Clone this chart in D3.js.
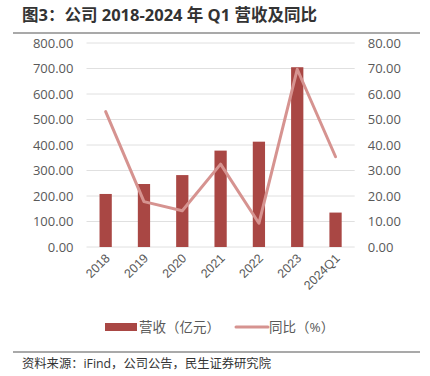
<!DOCTYPE html>
<html><head><meta charset="utf-8">
<script src="https://cdn.jsdelivr.net/npm/d3@7"></script>
<style>body{margin:0;background:#fff;} svg{display:block;font-family:"Open Sans","Noto Sans CJK SC",sans-serif;}</style>
</head><body><svg id="c" width="430" height="376"></svg>
<script>
const categories = ["2018","2019","2020","2021","2022","2023","2024Q1"];
const revenue = [208, 247, 282, 378, 413, 705, 135];
const yoy = [53.1, 17.8, 14.2, 32.5, 9.3, 69.7, 35.4];
const leftTicks = [0,100,200,300,400,500,600,700,800];
const rightTicks = [0,10,20,30,40,50,60,70,80];
const titleText = "图3：公司 2018-2024 年 Q1 营收及同比";
const sourceText = "资料来源：iFind，公司公告，民生证券研究院";
const legendLabels = ["营收（亿元）","同比（%）"];

const svg = d3.select("#c");
const barColor = "#A94744", lineColor = "#D69390", txt = "#595959", grid = "#E0E0E0";
const x = d3.scaleBand().domain(categories).range([86.5, 354.7]).paddingInner(0.68).paddingOuter(0.34);
const yL = d3.scaleLinear().domain([0,800]).range([247,43]);
const yR = d3.scaleLinear().domain([0,80]).range([247,43]);

svg.append("text").attr("x",22).attr("y",21).attr("font-size",16.5).attr("font-weight","bold").attr("fill","#333").text(titleText);
svg.append("line").attr("x1",13).attr("x2",420).attr("y1",33).attr("y2",33).attr("stroke","#555").attr("stroke-width",1.2);

svg.append("g").selectAll("line").data(leftTicks).join("line")
  .attr("x1",86.5).attr("x2",354.7).attr("y1",d=>yL(d)).attr("y2",d=>yL(d)).attr("stroke",grid).attr("stroke-width",1);

const gl = svg.append("g").attr("transform","translate(86.5,0)").call(d3.axisLeft(yL).tickValues(leftTicks).tickFormat(d3.format(".2f")).tickSize(0).tickPadding(13));
gl.select(".domain").remove();
gl.selectAll("text").attr("font-size",13).attr("fill",txt).attr("font-family","Open Sans");
const gr = svg.append("g").attr("transform","translate(354.7,0)").call(d3.axisRight(yR).tickValues(rightTicks).tickFormat(d3.format(".2f")).tickSize(0).tickPadding(13));
gr.select(".domain").remove();
gr.selectAll("text").attr("font-size",13).attr("fill",txt).attr("font-family","Open Sans");

svg.append("g").selectAll("rect").data(categories).join("rect")
  .attr("x",d=>x(d)).attr("width",x.bandwidth()).attr("y",(d,i)=>yL(revenue[i])).attr("height",(d,i)=>yL(0)-yL(revenue[i])).attr("fill",barColor);

const line = d3.line().x((d,i)=>x(categories[i])+x.bandwidth()/2).y(d=>yR(d));
svg.append("path").datum(yoy).attr("d",line).attr("fill","none").attr("stroke",lineColor).attr("stroke-width",3).attr("stroke-linejoin","round").attr("stroke-linecap","round");

const gx = svg.append("g").attr("transform","translate(0,247)").call(d3.axisBottom(x).tickSize(0).tickPadding(0));
gx.select(".domain").remove();
gx.selectAll("text").attr("font-size",12.5).attr("fill",txt).attr("text-anchor","end").attr("dy",0)
  .attr("transform",function(){return "translate(5,12) rotate(-45)";});

// legend
const lg = svg.append("g");
lg.append("rect").attr("x",105).attr("y",323).attr("width",32).attr("height",8).attr("fill",barColor);
lg.append("text").attr("x",139).attr("y",332).attr("font-size",13.5).attr("fill",txt).text(legendLabels[0]);
lg.append("line").attr("x1",236).attr("x2",268).attr("y1",327).attr("y2",327).attr("stroke",lineColor).attr("stroke-width",3).attr("stroke-linecap","round");
lg.append("text").attr("x",269).attr("y",332).attr("font-size",13.5).attr("fill",txt).text(legendLabels[1]);

svg.append("line").attr("x1",13).attr("x2",420).attr("y1",352).attr("y2",352).attr("stroke","#555").attr("stroke-width",1.2);
svg.append("text").attr("x",22).attr("y",368).attr("font-size",12.3).attr("fill","#333").text(sourceText);
</script></body></html>
